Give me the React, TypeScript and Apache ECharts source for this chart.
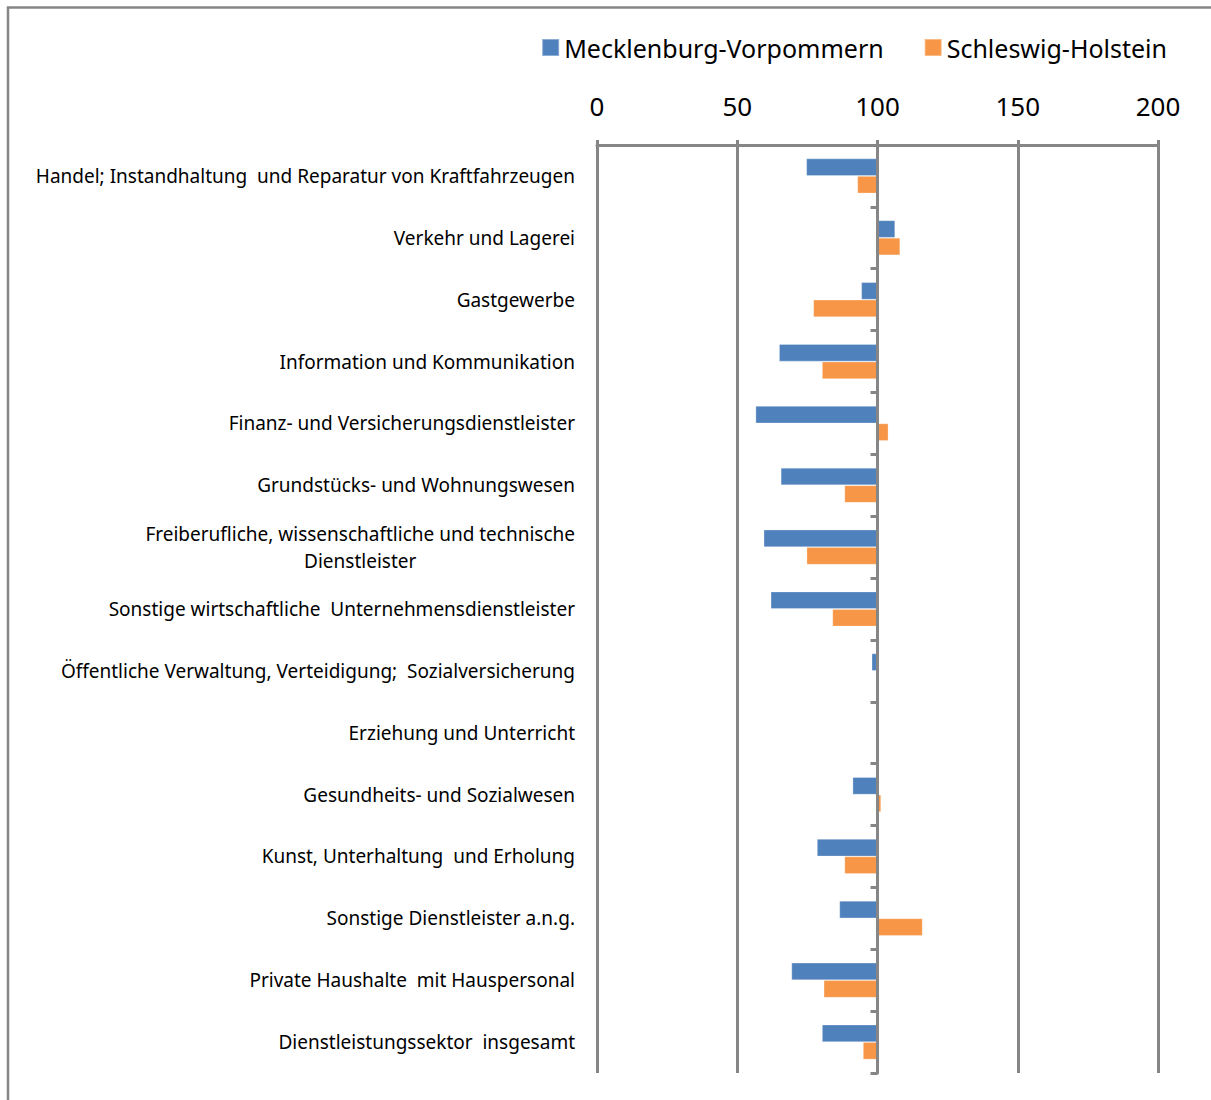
import React, { useEffect, useRef } from "react";
import * as echarts from "echarts";

// Branch labels, top to bottom
const categories = [
  "Handel; Instandhaltung  und Reparatur von Kraftfahrzeugen",
  "Verkehr und Lagerei",
  "Gastgewerbe",
  "Information und Kommunikation",
  "Finanz- und Versicherungsdienstleister",
  "Grundstücks- und Wohnungswesen",
  "Freiberufliche, wissenschaftliche und technische\nDienstleister",
  "Sonstige wirtschaftliche  Unternehmensdienstleister",
  "Öffentliche Verwaltung, Verteidigung;  Sozialversicherung",
  "Erziehung und Unterricht",
  "Gesundheits- und Sozialwesen",
  "Kunst, Unterhaltung  und Erholung",
  "Sonstige Dienstleister a.n.g.",
  "Private Haushalte  mit Hauspersonal",
  "Dienstleistungssektor  insgesamt",
];

const seriesNames = ["Mecklenburg-Vorpommern", "Schleswig-Holstein"];

const mvValues = [74.6, 106.3, 94.2, 64.9, 56.5, 65.5, 59.4, 61.9, 97.9, 99.4, 91.1, 78.4, 86.4, 69.3, 80.2];
const shValues = [92.8, 108.1, 77.1, 80.2, 103.9, 88.2, 74.7, 83.9, 100, 100, 101.3, 88.2, 116.1, 80.8, 94.8];

// Index level the bars grow from
const BASE = 100;
const axisTicks = [0, 50, 100, 150, 200];

const FONT = "Noto Sans";
const LABEL_SIZE = 19;
const GREY = "#868686";

function measure(text: string, size: number): number {
  const c = document.createElement("canvas");
  const ctx = c.getContext("2d");
  if (!ctx) return text.length * size * 0.5;
  ctx.font = `${size}px "${FONT}"`;
  return ctx.measureText(text).width;
}

export default function App() {
  const ref = useRef<HTMLDivElement>(null);

  useEffect(() => {
    if (!ref.current) return;
    const chart = echarts.init(ref.current, undefined, { renderer: "svg" });

    const multi = categories.find((c) => c.includes("\n")) || "";
    const blockWidth = Math.max(...multi.split("\n").map((l) => measure(l, LABEL_SIZE)));

    chart.setOption({
      animation: false,
      backgroundColor: "#ffffff",
      textStyle: { fontFamily: FONT },
      graphic: [
        {
          type: "rect",
          shape: { x: 8, y: 7.5, width: 1400, height: 1300 },
          style: { fill: "none", stroke: GREY, lineWidth: 2.5 },
          silent: true,
        },
      ],
      legend: {
        top: 35,
        right: 44,
        padding: 0,
        icon: "rect",
        itemWidth: 17,
        itemHeight: 17,
        itemGap: 40,
        textStyle: { fontSize: 25, color: "#000", fontFamily: FONT },
        data: seriesNames,
      },
      grid: {
        left: 597,
        right: 53,
        top: 145,
        bottom: 27,
        containLabel: false,
        outerBoundsMode: "none",
      },
      xAxis: {
        type: "value",
        position: "top",
        min: axisTicks[0] - BASE,
        max: axisTicks[axisTicks.length - 1] - BASE,
        interval: axisTicks[1] - axisTicks[0],
        axisLine: { show: true, lineStyle: { color: GREY, width: 3 } },
        axisTick: { show: true, length: 5, lineStyle: { color: GREY, width: 3 } },
        splitLine: { show: true, lineStyle: { color: GREY, width: 3 } },
        axisLabel: {
          margin: 26,
          fontSize: 26,
          color: "#000",
          fontFamily: FONT,
          formatter: (v: number) => String(v + BASE),
        },
      },
      yAxis: [
        {
          type: "category",
          inverse: true,
          data: categories,
          position: "left",
          axisLine: { show: false, onZero: false },
          axisTick: { show: false },
          splitLine: { show: false },
          axisLabel: {
            margin: 22,
            fontSize: LABEL_SIZE,
            color: "#000",
            fontFamily: FONT,
            lineHeight: 27,
            formatter: (v: string) =>
              v.includes("\n") ? v.split("\n").map((l) => `{c|${l}}`).join("\n") : v,
            rich: {
              c: {
                width: blockWidth,
                align: "center",
                fontSize: LABEL_SIZE,
                fontFamily: FONT,
                color: "#000",
                lineHeight: 27,
              },
            },
          },
        },
        {
          type: "category",
          inverse: true,
          data: categories,
          position: "left",
          z: 5,
          axisLine: { show: true, onZero: true, onZeroAxisIndex: 0, lineStyle: { color: GREY, width: 3 } },
          axisTick: { show: true, length: 7, lineStyle: { color: GREY, width: 3 } },
          axisLabel: { show: false },
          splitLine: { show: false },
        },
      ],
      series: [
        {
          name: seriesNames[0],
          type: "bar",
          yAxisIndex: 0,
          barWidth: 17.5,
          barGap: "0%",
          itemStyle: { color: "#4F81BD", borderColor: "rgba(255,255,255,0.35)", borderWidth: 0.8 },
          data: mvValues.map((v) => +(v - BASE).toFixed(2)),
        },
        {
          name: seriesNames[1],
          type: "bar",
          yAxisIndex: 0,
          barWidth: 17.5,
          barGap: "0%",
          itemStyle: { color: "#F79646", borderColor: "rgba(255,255,255,0.35)", borderWidth: 0.8 },
          data: shValues.map((v) => +(v - BASE).toFixed(2)),
        },
      ],
    });

    return () => chart.dispose();
  }, []);

  return (
    <div
      ref={ref}
      style={{ position: "absolute", left: 0, top: 0, width: 1211, height: 1100 }}
    />
  );
}
